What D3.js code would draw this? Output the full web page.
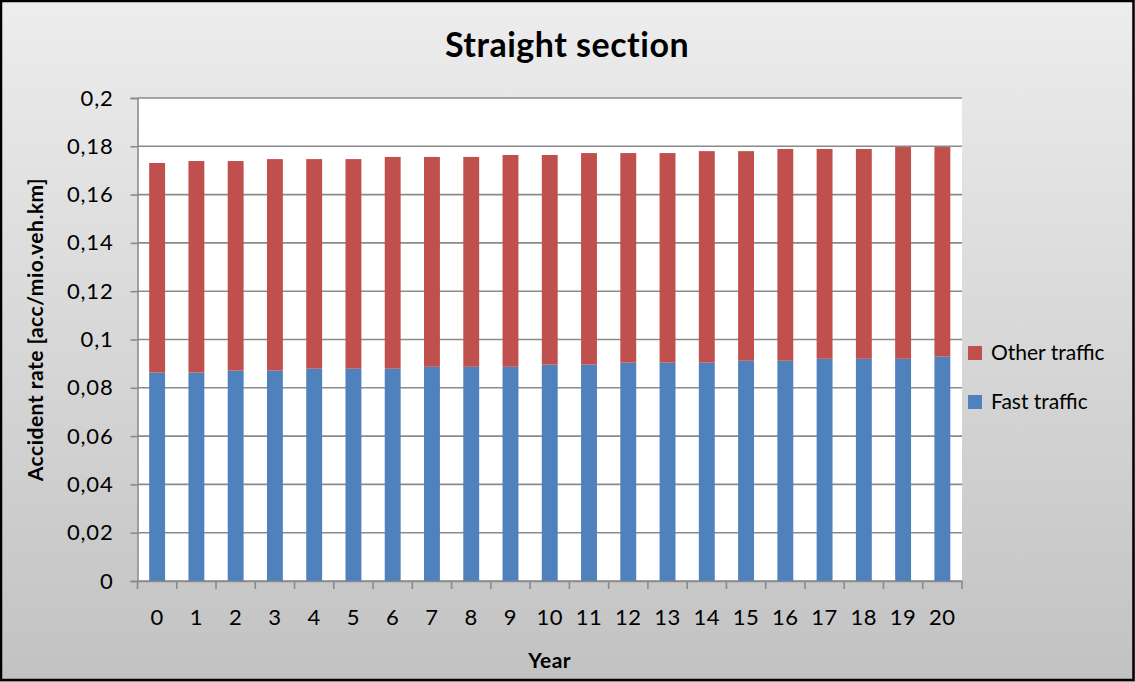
<!DOCTYPE html>
<html><head><meta charset="utf-8">
<script src="https://cdn.jsdelivr.net/npm/d3@7"></script>
<style>body{margin:0;padding:0;overflow:hidden;background:#fff}</style>
</head><body><svg id="c" width="1135" height="682"></svg>
<script>
const years = ["0","1","2","3","4","5","6","7","8","9","10","11","12","13","14","15","16","17","18","19","20"];
const fastTraffic = [0.0863,0.0863,0.0871,0.0871,0.0879,0.0879,0.0879,0.0887,0.0887,0.0887,0.0896,0.0896,0.0904,0.0904,0.0904,0.0912,0.0912,0.0920,0.0920,0.0920,0.0929];
const otherTraffic = [0.0868,0.0876,0.0868,0.0876,0.0868,0.0868,0.0877,0.0869,0.0869,0.0877,0.0868,0.0876,0.0868,0.0868,0.0876,0.0868,0.0877,0.0869,0.0869,0.0877,0.0868];
const yTicks = [0,0.02,0.04,0.06,0.08,0.1,0.12,0.14,0.16,0.18,0.2];
const seriesNames = ["Fast traffic","Other traffic"];
const colors = {"Fast traffic":"#4f81bd","Other traffic":"#c0504d"};

const W=1135,H=682;
const svg=d3.select("#c");
const font="Lato, 'Open Sans', sans-serif";
const defs=svg.append("defs");
const g=defs.append("linearGradient").attr("id","bg").attr("x1",0).attr("y1",0).attr("x2",0).attr("y2",1);
g.append("stop").attr("offset","0%").attr("stop-color","#ededed");
g.append("stop").attr("offset","100%").attr("stop-color","#c2c2c2");
svg.append("rect").attr("x",0).attr("y",0).attr("width",W).attr("height",H).attr("fill","url(#bg)");
svg.append("rect").attr("x",1).attr("y",1).attr("width",W-2.5).attr("height",H-3).attr("fill","none").attr("stroke","#000").attr("stroke-width",2.5);

const L=137.5,R=962,T=98,B=581;
svg.append("rect").attr("x",L).attr("y",T).attr("width",R-L).attr("height",B-T).attr("fill","#fff");

const x=d3.scaleBand().domain(years).range([L,R]).paddingInner(0.595).paddingOuter(0.2975);
const y=d3.scaleLinear().domain([0,0.2]).range([B,T]);

// gridlines
svg.append("g").selectAll("line").data(yTicks).join("line")
  .attr("x1",L).attr("x2",R).attr("y1",d=>y(d)).attr("y2",d=>y(d))
  .attr("stroke","#8a8a8a").attr("stroke-width",1.6);

const data=years.map((yr,i)=>({year:yr,"Fast traffic":fastTraffic[i],"Other traffic":otherTraffic[i]}));
const stack=d3.stack().keys(seriesNames)(data);
svg.append("g").selectAll("g").data(stack).join("g").attr("fill",d=>colors[d.key])
  .selectAll("rect").data(d=>d).join("rect")
  .attr("x",d=>x(d.data.year)).attr("width",x.bandwidth())
  .attr("y",d=>y(d[1])).attr("height",d=>y(d[0])-y(d[1]));

// axes
const yAxis=d3.axisLeft(y).tickValues(yTicks).tickSize(7).tickPadding(17)
  .tickFormat(d=>d===0?"0":String(+d.toFixed(2)).replace(".",","));
const ya=svg.append("g").attr("transform",`translate(${L},0)`).call(yAxis);
ya.select(".domain").attr("stroke","#8a8a8a").attr("stroke-width",1.6);
ya.selectAll(".tick line").attr("stroke","#8a8a8a").attr("stroke-width",1.6);
ya.selectAll("text").attr("font-family",font).attr("font-size",22).attr("letter-spacing",0.8).attr("fill","#000");

const xAxis=d3.axisBottom(x).tickSize(0).tickPadding(28);
const xa=svg.append("g").attr("transform",`translate(0,${B})`).call(xAxis);
xa.select(".domain").attr("stroke","#8a8a8a").attr("stroke-width",1.6);
xa.selectAll("text").attr("font-family",font).attr("font-size",22).attr("letter-spacing",0.5).attr("fill","#000");
// category boundary ticks
const bounds=d3.range(years.length+1).map(i=>L+i*(R-L)/years.length);
xa.append("g").selectAll("line").data(bounds).join("line")
  .attr("x1",d=>d).attr("x2",d=>d).attr("y1",0).attr("y2",8)
  .attr("stroke","#8a8a8a").attr("stroke-width",1.6);

// titles
svg.append("text").attr("x",567).attr("y",57).attr("text-anchor","middle")
  .attr("font-family",font).attr("font-weight","bold").attr("font-size",34).attr("letter-spacing",0.5).text("Straight section");
svg.append("text").attr("x",(L+R)/2).attr("y",668).attr("text-anchor","middle")
  .attr("font-family",font).attr("font-weight","bold").attr("font-size",21).attr("letter-spacing",0.5).text("Year");
svg.append("text").attr("transform",`translate(43,${(T+B)/2-10}) rotate(-90)`).attr("text-anchor","middle")
  .attr("font-family",font).attr("font-weight","bold").attr("font-size",21).attr("letter-spacing",0.5).text("Accident  rate [acc/mio.veh.km]");

// legend
const leg=[{k:"Other traffic",y:353},{k:"Fast traffic",y:402}];
const lg=svg.append("g").selectAll("g").data(leg).join("g");
lg.append("rect").attr("x",968).attr("y",d=>d.y-7).attr("width",14).attr("height",14).attr("fill",d=>colors[d.k]);
lg.append("text").attr("x",991).attr("y",d=>d.y+7).attr("font-family",font).attr("font-size",21).text(d=>d.k);
</script></body></html>
